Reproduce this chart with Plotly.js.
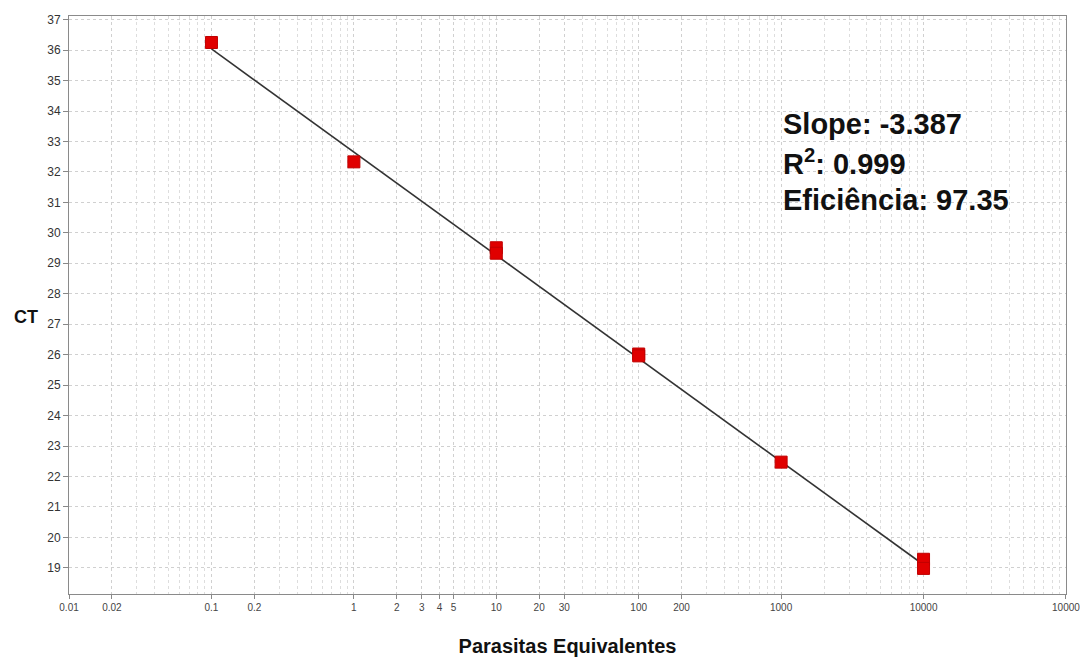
<!DOCTYPE html>
<html>
<head>
<meta charset="utf-8">
<script src="https://cdn.plot.ly/plotly-3.0.1.min.js"></script>
<style>html,body{margin:0;padding:0;background:#fff;}#chart{width:1080px;height:659px;}</style>
</head>
<body>
<div id="chart"></div>
<script>
// Standard curve points
const parasites = [0.1, 1, 10, 10, 100, 100, 1000, 10000, 10000];
const ctValues  = [36.25, 32.33, 29.51, 29.33, 26.02, 25.96, 22.47, 19.28, 18.98];
// Fitted regression line endpoints
const fitX = [0.1, 10000];
const fitY = [36.04, 19.1];
// Axis ticks
const xTickVals = [0.01, 0.02, 0.1, 0.2, 1, 2, 3, 4, 5, 10, 20, 30, 100, 200, 1000, 10000, 100000];
const xTickText = ['0.01','0.02','0.1','0.2','1','2','3','4','5','10','20','30','100','200','1000','10000','10000'];
const yTickVals = [19,20,21,22,23,24,25,26,27,28,29,30,31,32,33,34,35,36,37];
// Stats text
const statsLines = ['Slope: -3.387', 'R<sup>2</sup>: 0.999', 'Eficiência: 97.35'];

const minorVals = [];
for (let e = -2; e < 5; e++) {
  for (let m = 2; m <= 9; m++) minorVals.push(m * Math.pow(10, e));
}

const traces = [
  {
    x: fitX, y: fitY, type: 'scatter', mode: 'lines',
    line: {color: '#333333', width: 1.6}, hoverinfo: 'skip', showlegend: false
  },
  {
    x: parasites, y: ctValues, type: 'scatter', mode: 'markers',
    marker: {symbol: 'square', size: 12, color: '#e00000', line: {color: '#c00000', width: 1}},
    showlegend: false
  }
];

const gridDash = '3px,3px';
const layout = {
  width: 1080, height: 659,
  margin: {l: 69, r: 14, t: 16, b: 65},
  paper_bgcolor: '#ffffff', plot_bgcolor: '#ffffff',
  font: {family: 'Arial, Liberation Sans, sans-serif', color: '#333333'},
  showlegend: false,
  xaxis: {
    type: 'log', range: [-2.0003, 5.0003],
    tickmode: 'array', tickvals: xTickVals, ticktext: xTickText,
    tickfont: {size: 10, color: '#444444'},
    ticklabeloverflow: 'allow',
    ticks: 'outside', ticklen: 4, tickcolor: '#888888',
    showgrid: true, gridcolor: '#d0d0d0', griddash: gridDash, gridwidth: 1,
    minor: {tickmode: 'array', tickvals: minorVals, showgrid: true, gridcolor: '#dddddd', griddash: gridDash, gridwidth: 1, ticks: ''},
    showline: true, linecolor: '#8a8a8a', linewidth: 1, mirror: true,
    zeroline: false,
    title: {text: '<b>Parasitas Equivalentes</b>', font: {size: 20, color: '#111111'}, standoff: 26}
  },
  yaxis: {
    range: [18.14, 37.12],
    tickmode: 'array', tickvals: yTickVals,
    tickfont: {size: 12, color: '#333333'},
    ticks: 'outside', ticklen: 5, tickcolor: '#888888',
    showgrid: true, gridcolor: '#d0d0d0', griddash: gridDash, gridwidth: 1,
    showline: true, linecolor: '#8a8a8a', linewidth: 1, mirror: true,
    zeroline: false
  },
  annotations: [
    {
      xref: 'paper', yref: 'paper', x: -0.043, y: 0.48,
      xanchor: 'center', yanchor: 'middle', showarrow: false,
      text: '<b>CT</b>', font: {size: 18, color: '#111111'}
    }
  ].concat(statsLines.map((t, i) => ({
    xref: 'paper', yref: 'paper', x: 0.714, y: 0.813 - i * 0.0657,
    xanchor: 'left', yanchor: 'middle', showarrow: false,
    text: '<b>' + t + '</b>',
    font: {size: 29, color: '#111111', family: 'Arial, Liberation Sans, sans-serif'}
  })))
};

Plotly.newPlot('chart', traces, layout, {displayModeBar: false, staticPlot: true});
</script>
</body>
</html>
